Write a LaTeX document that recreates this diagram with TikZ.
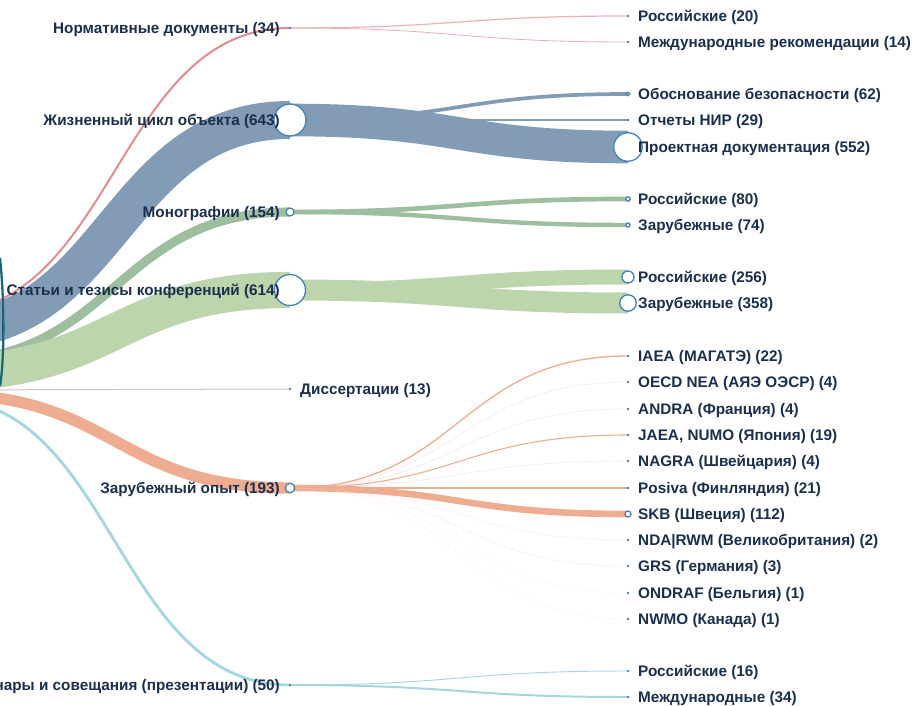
\documentclass[tikz,border=0pt]{standalone}
\usepackage{fontspec}
\setmainfont{Liberation Sans}
\usetikzlibrary{backgrounds}

\definecolor{txt}{RGB}{26,47,78}
\definecolor{ndblue}{RGB}{70,130,180}
\definecolor{croot}{RGB}{22,105,125}
\definecolor{cnorm}{RGB}{226,140,145}
\definecolor{cnorm2}{RGB}{238,178,182}
\definecolor{czhc}{RGB}{131,156,181}
\definecolor{cmono}{RGB}{158,190,160}
\definecolor{cstat}{RGB}{188,213,172}
\definecolor{cdiss}{RGB}{205,195,215}
\definecolor{czar}{RGB}{238,172,145}
\definecolor{czar2}{RGB}{245,200,182}
\definecolor{csem}{RGB}{165,215,225}

\tikzset{
  lbl/.style={font=\fontsize{15.3}{17}\selectfont\bfseries, text=txt, inner sep=0pt},
  lone/.style={lbl, anchor=base east, xshift=-10pt, yshift=-5.4pt},
  ltwo/.style={lbl, anchor=base west, xshift=10pt, yshift=-5.4pt},
  nd/.style={circle, draw=ndblue, fill=white, line width=1.3pt, inner sep=0pt},
  dot/.style={circle, fill=ndblue, inner sep=0pt, minimum size=2.6pt},
  lk/.style={line cap=butt},
  faint/.style={lk, czar2, line width=0.6pt, opacity=0.45},
}

\begin{document}
\begin{tikzpicture}[x=1pt,y=-1pt]
    \useasboundingbox (0,0) rectangle (913,706);
    \clip (0,0) rectangle (913,706);

    % first level
    \node[dot] (norm) at (290,28) {};
    \node[nd, minimum size=32pt] (zhc) at (290,120) {};
    \node[nd, minimum size=8pt] (mono) at (290,212) {};
    \node[nd, minimum size=31pt] (stat) at (290,290) {};
    \node[dot] (diss) at (290,389) {};
    \node[nd, minimum size=9.5pt] (zar) at (290,488) {};
    \node[dot] (sem) at (290,685) {};

    % second level
    \node[dot] (norm-ru) at (628,16) {};
    \node[dot] (norm-int) at (628,42) {};
    \node[nd, minimum size=3.5pt] (zhc-ob) at (628,94) {};
    \node[dot] (zhc-nir) at (628,120) {};
    \node[nd, minimum size=28.5pt] (zhc-pd) at (628,147) {};
    \node[nd, minimum size=4.5pt] (mono-ru) at (628,199) {};
    \node[nd, minimum size=4pt] (mono-fr) at (628,225) {};
    \node[nd, minimum size=12pt] (stat-ru) at (628,277) {};
    \node[nd, minimum size=16.5pt] (stat-fr) at (628,303) {};
    \node[dot] (zar-iaea) at (628,356) {};
    \node[dot] (zar-oecd) at (628,382) {};
    \node[dot] (zar-andra) at (628,409) {};
    \node[dot] (zar-jaea) at (628,435) {};
    \node[dot] (zar-nagra) at (628,461) {};
    \node[dot] (zar-posiva) at (628,488) {};
    \node[nd, minimum size=6pt] (zar-skb) at (628,514) {};
    \node[dot] (zar-nda) at (628,540) {};
    \node[dot] (zar-grs) at (628,566) {};
    \node[dot] (zar-ondraf) at (628,593) {};
    \node[dot] (zar-nwmo) at (628,619) {};
    \node[dot] (sem-ru) at (628,671) {};
    \node[dot] (sem-int) at (628,697) {};

    % root
    \draw[croot, line width=2.3pt] (0,258) .. controls (4.5,300) and (4.5,360) .. (0,386);

    \begin{pgfonlayer}{background}
    \clip (0,0) rectangle (913,706);
    \coordinate (s-norm) at (-60,313);
    \coordinate (s-zhc) at (-60,331);
    \coordinate (s-mono) at (-60,361);
    \coordinate (s-stat) at (-60,373);
    \coordinate (s-diss) at (-60,390);
    \coordinate (s-zar) at (-60,394);
    \coordinate (s-sem) at (-60,398);

    % root links
    \draw[lk, czhc, line width=38pt] (s-zhc) .. controls +(175,0) and +(-175,0) .. (zhc.center);
    \draw[lk, cnorm, line width=2pt] (s-norm) .. controls +(175,0) and +(-175,0) .. (norm.center);
    \draw[lk, cmono, line width=9.1pt] (s-mono) .. controls +(175,0) and +(-175,0) .. (mono.center);
    \draw[lk, cstat, line width=36.2pt] (s-stat) .. controls +(175,0) and +(-175,0) .. (stat.center);
    \draw[lk, cdiss, line width=1pt] (s-diss) .. controls +(175,0) and +(-175,0) .. (diss.center);
    \draw[lk, czar, line width=11.4pt] (s-zar) .. controls +(175,0) and +(-175,0) .. (zar.center);
    \draw[lk, csem, line width=2.9pt] (s-sem) .. controls +(175,0) and +(-175,0) .. (sem.center);

    % second level links
    \draw[lk, cnorm2, line width=1.2pt] (norm.center) .. controls +(169,0) and +(-169,0) .. (norm-ru.center);
    \draw[lk, cnorm2, line width=0.85pt] (norm.center) .. controls +(169,0) and +(-169,0) .. (norm-int.center);
    \draw[lk, czhc, line width=3.7pt] (zhc.center) .. controls +(169,0) and +(-169,0) .. (zhc-ob.center);
    \draw[lk, czhc, line width=1.7pt] (zhc.center) .. controls +(169,0) and +(-169,0) .. (zhc-nir.center);
    \draw[lk, czhc, line width=32.6pt] (zhc.center) .. controls +(169,0) and +(-169,0) .. (zhc-pd.center);
    \draw[lk, cmono, line width=4.7pt] (mono.center) .. controls +(169,0) and +(-169,0) .. (mono-ru.center);
    \draw[lk, cmono, line width=4.4pt] (mono.center) .. controls +(169,0) and +(-169,0) .. (mono-fr.center);
    \draw[lk, cstat, line width=15pt] (stat.center) .. controls +(169,0) and +(-169,0) .. (stat-ru.center);
    \draw[lk, cstat, line width=21pt] (stat.center) .. controls +(169,0) and +(-169,0) .. (stat-fr.center);
    \draw[lk, czar, line width=1.3pt] (zar.center) .. controls +(169,0) and +(-169,0) .. (zar-iaea.center);
    \draw[faint] (zar.center) .. controls +(169,0) and +(-169,0) .. (zar-oecd.center);
    \draw[faint] (zar.center) .. controls +(169,0) and +(-169,0) .. (zar-andra.center);
    \draw[lk, czar, line width=1.1pt] (zar.center) .. controls +(169,0) and +(-169,0) .. (zar-jaea.center);
    \draw[faint] (zar.center) .. controls +(169,0) and +(-169,0) .. (zar-nagra.center);
    \draw[lk, czar, line width=1.25pt] (zar.center) .. controls +(169,0) and +(-169,0) .. (zar-posiva.center);
    \draw[lk, czar, line width=6.6pt] (zar.center) .. controls +(169,0) and +(-169,0) .. (zar-skb.center);
    \draw[faint, opacity=0.3] (zar.center) .. controls +(169,0) and +(-169,0) .. (zar-nda.center);
    \draw[faint, opacity=0.35] (zar.center) .. controls +(169,0) and +(-169,0) .. (zar-grs.center);
    \draw[faint, opacity=0.2] (zar.center) .. controls +(169,0) and +(-169,0) .. (zar-ondraf.center);
    \draw[faint, opacity=0.2] (zar.center) .. controls +(169,0) and +(-169,0) .. (zar-nwmo.center);
    \draw[lk, csem, line width=0.95pt] (sem.center) .. controls +(169,0) and +(-169,0) .. (sem-ru.center);
    \draw[lk, csem, line width=2pt] (sem.center) .. controls +(169,0) and +(-169,0) .. (sem-int.center);
    \end{pgfonlayer}

    % labels
    \node[lone] (norm-t) at (norm.center) {Нормативные документы (34)};
    \node[lone] (zhc-t) at (zhc.center) {Жизненный цикл объекта (643)};
    \node[lone] (mono-t) at (mono.center) {Монографии (154)};
    \node[lone] (stat-t) at (stat.center) {Статьи и тезисы конференций (614)};
    \node[ltwo] (diss-t) at (diss.center) {Диссертации (13)};
    \node[lone] (zar-t) at (zar.center) {Зарубежный опыт (193)};
    \node[lone] (sem-t) at (sem.center) {Семинары и совещания (презентации) (50)};

    \node[ltwo] (norm-ru-t) at (norm-ru.center) {Российские (20)};
    \node[ltwo] (norm-int-t) at (norm-int.center) {Международные рекомендации (14)};
    \node[ltwo] (zhc-ob-t) at (zhc-ob.center) {Обоснование безопасности (62)};
    \node[ltwo] (zhc-nir-t) at (zhc-nir.center) {Отчеты НИР (29)};
    \node[ltwo] (zhc-pd-t) at (zhc-pd.center) {Проектная документация (552)};
    \node[ltwo] (mono-ru-t) at (mono-ru.center) {Российские (80)};
    \node[ltwo] (mono-fr-t) at (mono-fr.center) {Зарубежные (74)};
    \node[ltwo] (stat-ru-t) at (stat-ru.center) {Российские (256)};
    \node[ltwo] (stat-fr-t) at (stat-fr.center) {Зарубежные (358)};
    \node[ltwo] (zar-iaea-t) at (zar-iaea.center) {IAEA (МАГАТЭ) (22)};
    \node[ltwo] (zar-oecd-t) at (zar-oecd.center) {OECD NEA (АЯЭ ОЭСР) (4)};
    \node[ltwo] (zar-andra-t) at (zar-andra.center) {ANDRA (Франция) (4)};
    \node[ltwo] (zar-jaea-t) at (zar-jaea.center) {JAEA, NUMO (Япония) (19)};
    \node[ltwo] (zar-nagra-t) at (zar-nagra.center) {NAGRA (Швейцария) (4)};
    \node[ltwo] (zar-posiva-t) at (zar-posiva.center) {Posiva (Финляндия) (21)};
    \node[ltwo] (zar-skb-t) at (zar-skb.center) {SKB (Швеция) (112)};
    \node[ltwo] (zar-nda-t) at (zar-nda.center) {NDA|RWM (Великобритания) (2)};
    \node[ltwo] (zar-grs-t) at (zar-grs.center) {GRS (Германия) (3)};
    \node[ltwo] (zar-ondraf-t) at (zar-ondraf.center) {ONDRAF (Бельгия) (1)};
    \node[ltwo] (zar-nwmo-t) at (zar-nwmo.center) {NWMO (Канада) (1)};
    \node[ltwo] (sem-ru-t) at (sem-ru.center) {Российские (16)};
    \node[ltwo] (sem-int-t) at (sem-int.center) {Международные (34)};
\end{tikzpicture}
\end{document}
